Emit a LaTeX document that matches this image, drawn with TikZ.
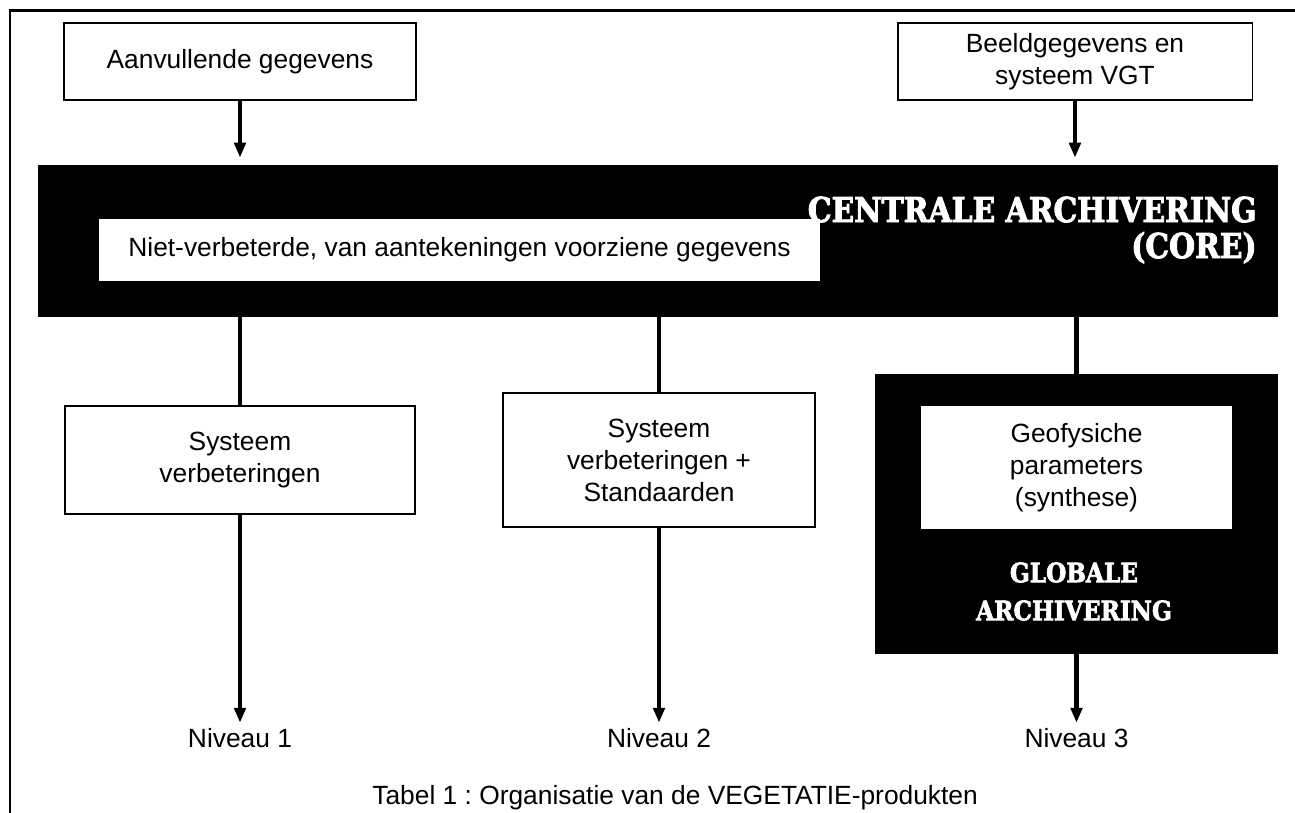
\documentclass[tikz,border=0pt]{standalone}
\usepackage{fontspec}
\setmainfont{Liberation Sans}
\newfontfamily\slabfont[FakeStretch=0.87,FakeBold=2.5]{DejaVu Serif}
\usetikzlibrary{arrows.meta,positioning}

\begin{document}
\frenchspacing
\begin{tikzpicture}[x=0.02cm,y=-0.02cm,
  every node/.style={font=\fontsize{15}{18.2}\selectfont},
  box/.style={draw,line width=1.1pt,fill=white,align=center,inner sep=0pt},
  blackbox/.style={fill=black,inner sep=0pt},
  whitebox/.style={fill=white,align=center,inner sep=0pt},
  heading/.style={text=white,inner sep=0pt,font=\slabfont\bfseries\fontsize{19.5}{20.5}\selectfont},
  link/.style={line width=2.3pt},
  arr/.style={line width=2.3pt,-{Triangle[length=8.5pt,width=6.5pt]}},
  level/.style={inner sep=3pt}]
  \useasboundingbox (0,0) rectangle (1295,813);
  \draw[line width=1.7pt] (10,813) -- (10,11) -- (1295,11);

  \node[box,minimum width=7.04cm,minimum height=1.54cm] (aanv) at (240,61.5) {Aanvullende gegevens};
  \node[box,minimum width=7.1cm,minimum height=1.54cm] (beeld) at (1075,61.5) {Beeldgegevens en\\systeem VGT};

  \node[blackbox,minimum width=24.8cm,minimum height=3.04cm] (core) at (658,241) {};
  \node[whitebox,minimum width=14.42cm,minimum height=1.24cm] (ruw) at (459.5,250)
    {Niet-verbeterde, van aantekeningen voorziene gegevens};
  \node[heading,align=right,anchor=east] (coretitel) at (1257,230) {CENTRALE ARCHIVERING\\(CORE)};

  \node[box,minimum width=7cm,minimum height=2.16cm] (sys1) at (240,460) {Systeem\\verbeteringen};
  \node[box,minimum width=6.24cm,minimum height=2.68cm] (sys2) at (659,460) {Systeem\\verbeteringen +\\Standaarden};
  \node[blackbox,minimum width=8.06cm,minimum height=5.6cm] (glob) at (1076.5,514) {};
  \node[whitebox,minimum width=6.22cm,minimum height=2.46cm] (geo) at (1076.5,467.5) {Geofysiche\\parameters\\(synthese)};
  \node[heading,align=center,font=\slabfont\bfseries\fontsize{15.2}{21.6}\selectfont] (globtitel) at (1074,591.5)
    {GLOBALE\\ARCHIVERING};

  \node[level] (niv1) at (240,738) {Niveau 1};
  \node[level] (niv2) at (659,738) {Niveau 2};
  \node[level] (niv3) at (1076.5,738) {Niveau 3};
  \node[anchor=base west,inner sep=0pt] (bijschrift) at (372,805) {Tabel 1 : Organisatie van de VEGETATIE-produkten};

  \draw[arr,shorten >=4pt] (aanv) -- (aanv |- core.north);
  \draw[arr,shorten >=4pt] (beeld) -- (beeld |- core.north);
  \draw[link] (sys1 |- core.south) -- (sys1);
  \draw[link] (sys2 |- core.south) -- (sys2);
  \draw[link] (glob |- core.south) -- (glob);
  \draw[arr] (sys1) -- (niv1);
  \draw[arr] (sys2) -- (niv2);
  \draw[arr] (glob) -- (niv3);
\end{tikzpicture}
\end{document}
